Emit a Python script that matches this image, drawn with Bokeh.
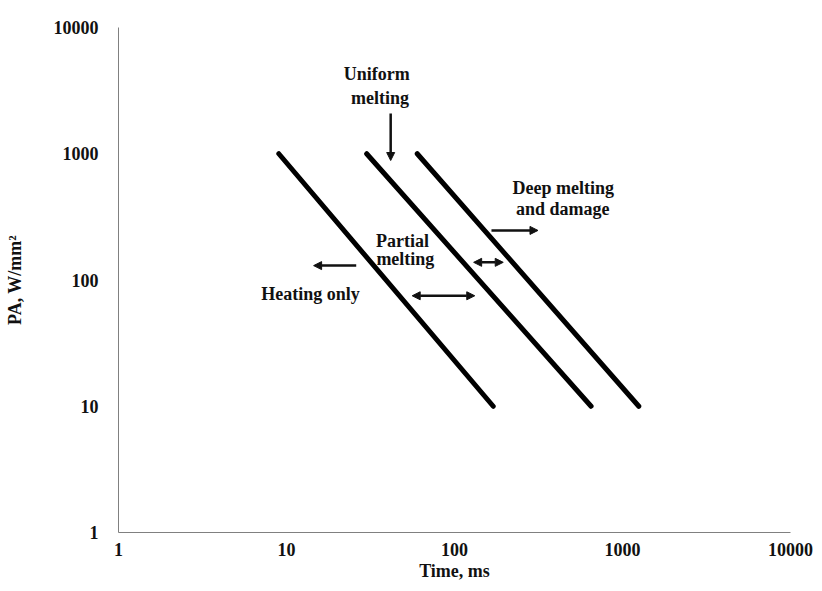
from bokeh.plotting import figure
from bokeh.models import Arrow, NormalHead, ColumnDataSource, FixedTicker, NumeralTickFormatter
from bokeh.core.properties import value
from bokeh.embed import file_html
from bokeh.resources import INLINE

# ---- data ----
x_ticks = [1, 10, 100, 1000, 10000]
y_ticks = [1, 10, 100, 1000, 10000]

# threshold lines (Time, ms  vs  PA, W/mm2)
time_start = [9, 30, 60]
time_end = [170, 650, 1250]
pa_start = [1000, 1000, 1000]
pa_end = [10, 10, 10]

# arrows
arrow_x0 = [41.7, 166, 26, 130, 56]
arrow_y0 = [2080, 247, 130, 138, 75]
arrow_x1 = [41.7, 314, 14.5, 195, 132]
arrow_y1 = [884, 247, 130, 138, 75]
arrow_double = [False, False, False, True, True]

# region labels
label_text = ["Uniform", "melting", "Deep melting", "and damage", "Partial", "melting", "Heating only"]
label_x = [34.5, 36, 444, 441, 49, 51, 13.9]
label_y = [4320, 2740, 540, 362, 202, 148, 78]

FONT = value("Liberation Serif")
INK = "#111111"

p = figure(width=814, height=583, x_axis_type="log", y_axis_type="log",
           x_range=(1, 10000), y_range=(1, 10000),
           output_backend="svg", toolbar_location=None,
           min_border_left=118, min_border_right=24, min_border_top=27, min_border_bottom=51)

p.xgrid.visible = False
p.ygrid.visible = False
p.outline_line_color = None
p.background_fill_color = "white"
p.border_fill_color = "white"

for ax, ticks in ((p.xaxis, x_ticks), (p.yaxis, y_ticks)):
    ax.ticker = FixedTicker(ticks=ticks, minor_ticks=[])
    ax.formatter = NumeralTickFormatter(format="0")
    ax.major_tick_line_color = None
    ax.minor_tick_line_color = None
    ax.axis_line_color = "#808080"
    ax.axis_line_width = 1
    ax.major_label_text_font = "Liberation Serif"
    ax.major_label_text_font_style = "bold"
    ax.major_label_text_font_size = "18px"
    ax.major_label_text_color = INK
    ax.axis_label_text_font = "Liberation Serif"
    ax.axis_label_text_font_style = "bold"
    ax.axis_label_text_font_size = "18px"
    ax.axis_label_text_color = INK

p.yaxis.major_label_standoff = 14
p.yaxis.axis_label = "PA, W/mm²"
p.yaxis.axis_label_standoff = 26

p.xaxis.major_label_standoff = 4
p.xaxis.axis_label = "Time, ms"
p.xaxis.axis_label_standoff = 2

for xs, xe, ys, ye in zip(time_start, time_end, pa_start, pa_end):
    p.line([xs, xe], [ys, ye], line_color="black", line_width=5, line_cap="round")

for x0, y0, x1, y1, dbl in zip(arrow_x0, arrow_y0, arrow_x1, arrow_y1, arrow_double):
    end = NormalHead(size=8, fill_color=INK, line_color=INK)
    start = NormalHead(size=8, fill_color=INK, line_color=INK) if dbl else None
    p.add_layout(Arrow(x_start=x0, y_start=y0, x_end=x1, y_end=y1,
                       start=start, end=end, line_width=2.5, line_color=INK))

src = ColumnDataSource(dict(x=label_x, y=label_y, t=label_text))
p.text(x="x", y="y", text="t", source=src, text_font=FONT, text_font_style="bold",
       text_font_size="18px", text_align="center", text_baseline="middle", text_color=INK)

open("out.html", "w").write(file_html(p, INLINE))
